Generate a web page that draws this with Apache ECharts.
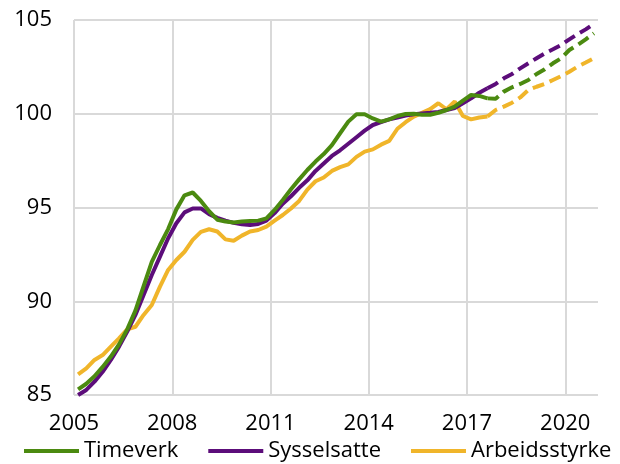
<!DOCTYPE html>
<html><head><meta charset="utf-8">
<script src="https://cdn.jsdelivr.net/npm/echarts/dist/echarts.min.js"></script>
<style>html,body{margin:0;padding:0;background:#fff}#c{width:620px;height:464px}</style>
</head><body><div id="c"></div>
<script>
// Quarterly index series, 2005K1 = first point; solid = actual, dashed = projection
const startYear = 2005;
const seriesNames = ['Timeverk', 'Sysselsatte', 'Arbeidsstyrke'];
const firstForecastQuarter = 50; // 2017K3 (forecast lines start here)

const timeverk = [85.3, 85.6, 86.0, 86.5, 87.05, 87.7, 88.5, 89.5, 90.8, 92.1, 93.0, 93.85, 94.9, 95.65, 95.8, 95.35,
  94.8, 94.35, 94.25, 94.2, 94.25, 94.28, 94.3, 94.42, 94.87, 95.4, 95.97, 96.5, 97.0, 97.45, 97.85, 98.33,
  98.96, 99.58, 99.97, 99.97, 99.75, 99.58, 99.7, 99.88, 99.99, 100.0, 99.95, 99.95, 100.05, 100.2, 100.38, 100.7,
  101.0, 100.95, 100.82];
const timeverkForecast = [100.82, 100.8, 101.18, 101.41, 101.59, 101.8, 102.12, 102.37, 102.69, 102.96, 103.4, 103.67, 103.97, 104.29];

const sysselsatte = [85.0, 85.27, 85.71, 86.24, 86.87, 87.58, 88.38, 89.27, 90.33, 91.4, 92.38, 93.36, 94.16, 94.74, 94.95, 94.95,
  94.65, 94.45, 94.3, 94.18, 94.1, 94.07, 94.12, 94.3, 94.7, 95.2, 95.6, 96.05, 96.45, 96.95, 97.35, 97.75,
  98.05, 98.4, 98.75, 99.1, 99.4, 99.55, 99.7, 99.8, 99.9, 99.97, 100.02, 100.05, 100.1, 100.2, 100.3, 100.56,
  100.82, 101.12, 101.36];
const sysselsatteForecast = [101.36, 101.59, 101.89, 102.12, 102.42, 102.69, 102.96, 103.22, 103.44, 103.67, 103.97, 104.25, 104.5, 104.79];

const arbeidsstyrke = [86.1, 86.42, 86.87, 87.13, 87.58, 88.02, 88.5, 88.64, 89.27, 89.8, 90.78, 91.67, 92.2, 92.64, 93.27, 93.7,
  93.84, 93.72, 93.3, 93.23, 93.5, 93.72, 93.8, 93.98, 94.3, 94.6, 94.95, 95.35, 95.95, 96.4, 96.6, 96.95,
  97.15, 97.3, 97.7, 97.98, 98.1, 98.35, 98.55, 99.2, 99.55, 99.85, 100.05, 100.25, 100.56, 100.24, 100.65, 99.88,
  99.7, 99.8, 99.85];
const arbeidsstyrkeForecast = [99.85, 100.2, 100.38, 100.59, 100.87, 101.27, 101.44, 101.59, 101.8, 102.01, 102.24, 102.51, 102.73, 102.96];

const colors = ['#4b8a10', '#5c0d7a', '#f0b52a'];

function toPoints(values, offset) {
  return values.map((v, i) => [startYear + (offset + i + 0.5) / 4, v]);
}

const actual = [timeverk, sysselsatte, arbeidsstyrke];
const forecast = [timeverkForecast, sysselsatteForecast, arbeidsstyrkeForecast];

const series = [];
seriesNames.forEach((name, k) => {
  series.push({
    name: name, type: 'line', data: toPoints(actual[k], 0), showSymbol: false, symbol: 'none',
    lineStyle: { width: 4, color: colors[k] }, itemStyle: { color: colors[k] }, z: 6 - k
  });
});
seriesNames.forEach((name, k) => {
  series.push({
    name: name + ' anslag', type: 'line', data: toPoints(forecast[k], firstForecastQuarter), showSymbol: false, symbol: 'none',
    lineStyle: { width: 4, color: colors[k], type: [12, 6] }, itemStyle: { color: colors[k] }, z: 6 - k
  });
});

const chart = echarts.init(document.getElementById('c'), null, { renderer: 'canvas' });
const gridColor = '#d9d9d9';
const font = '"Open Sans", "Noto Sans", sans-serif';
chart.setOption({
  animation: false,
  backgroundColor: '#fff',
  textStyle: { fontFamily: font },
  grid: { left: 74, right: 22, top: 20, bottom: 69, containLabel: false },
  legend: {
    data: seriesNames, icon: 'rect', itemWidth: 55, itemHeight: 4, itemGap: 30,
    left: 24, top: 440, padding: 0,
    textStyle: { fontSize: 22, color: '#000', fontFamily: font }
  },
  xAxis: {
    type: 'value', min: 2005, max: 2021, interval: 3,
    axisLine: { show: false }, axisTick: { show: false },
    axisLabel: { fontSize: 22, color: '#000', margin: 18, showMaxLabel: false, fontFamily: font,
      formatter: function (v) { return String(v); } },
    splitLine: { show: true, showMaxLine: false, lineStyle: { color: [gridColor, gridColor, gridColor, gridColor, gridColor, gridColor, 'rgba(0,0,0,0)'], width: 2 } }
  },
  yAxis: {
    type: 'value', min: 85, max: 105, interval: 5,
    axisLine: { show: false }, axisTick: { show: false },
    axisLabel: { fontSize: 22, color: '#000', margin: 22, fontFamily: font },
    splitLine: { show: true, lineStyle: { color: gridColor, width: 2 } }
  },
  series: series
});
</script>
</body></html>
